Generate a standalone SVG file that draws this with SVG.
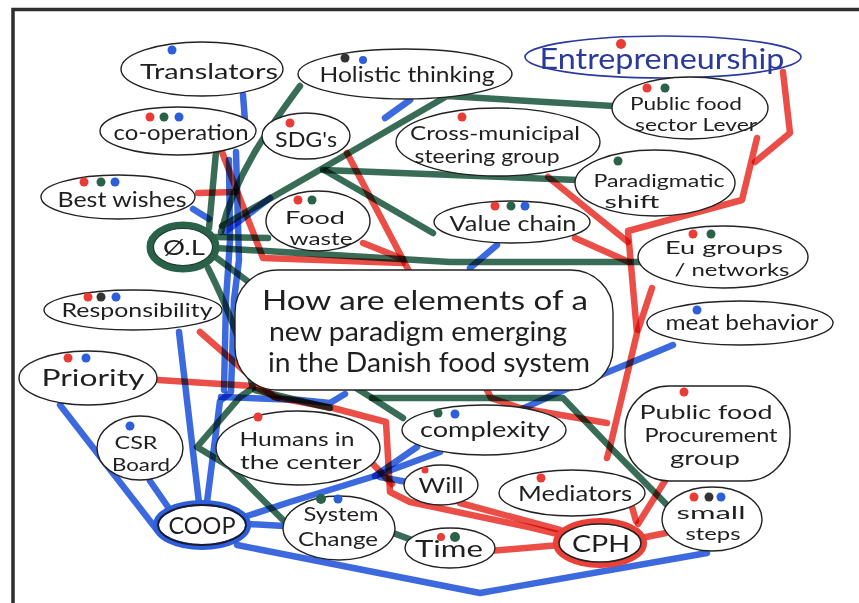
<svg xmlns="http://www.w3.org/2000/svg" width="859" height="603" viewBox="0 0 859 603">
  <defs>
    <style>
      .g { stroke: #2a6149; }
      .r { stroke: #ea4038; }
      .b { stroke: #2d5fdc; }
      .ln { fill: none; stroke-width: 6.5; stroke-linecap: round; stroke-linejoin: round; mix-blend-mode: multiply; opacity: 0.93; }
      .nd { fill: #ffffff; stroke: #222; stroke-width: 1.4; }
      .t { font-family: Lato, "Liberation Sans", sans-serif; font-size: 21px; fill: #1f1f1f; text-anchor: middle; }
      .two { font-size: 17px; }
      .big { font-size: 26px; }
      .dr { fill: #ea3b35; }
      .dg { fill: #2a6149; }
      .db { fill: #2d5fdc; }
      .dk { fill: #333333; }
    </style>
  </defs>
  <rect width="859" height="603" fill="#ffffff"/>
  <!-- frame -->
  <path d="M13,603 V9.5 H859" fill="none" stroke="#2e2e2e" stroke-width="3.5"/>

  <!-- connectors -->
  <g id="connectors">
    <!-- blue -->
    <path class="ln b" d="M243,95 L245,121"/>
    <path class="ln b" d="M236,152 L239,260 L234,300 L231,392 L220,401 L207,502"/>
    <path class="ln b" d="M229,160 L230,240 L226,300 L224,390"/>
    <path class="ln b" d="M221,397 L300,400 L330,403 L345,394"/>
    <path class="ln b" d="M225,232 L270,198"/>
    <path class="ln b" d="M385,118 L410,100"/>
    <path class="ln b" d="M193,209 L209,219"/>
    <path class="ln b" d="M179,332 L199,503"/>
    <path class="ln b" d="M60,405 L157,530"/>
    <path class="ln b" d="M150,481 L168,507"/>
    <path class="ln b" d="M248,524 L284,526"/>
    <path class="ln b" d="M247,516 L290,502 L375,476 L417,447"/>
    <path class="ln b" d="M375,476 L440,452"/>
    <path class="ln b" d="M380,477 L407,482"/>
    <path class="ln b" d="M237,545 L480,593 L707,553"/>
    <path class="ln b" d="M673,345 L630,363 L557,393 L520,410"/>
    <path class="ln b" d="M497,245 L470,268"/>

    <!-- green -->
    <path class="ln g" d="M300,86 C272,124 236,172 221,232"/>
    <path class="ln g" d="M216,152 L209,228"/>
    <path class="ln g" d="M222,226 L330,164 L447,96 L613,106"/>
    <path class="ln g" d="M323,170 L577,180"/>
    <path class="ln g" d="M326,171 L433,233"/>
    <path class="ln g" d="M215,237 L268,238"/>
    <path class="ln g" d="M215,248 L450,262 L641,262"/>
    <path class="ln g" d="M214,256 L250,283"/>
    <path class="ln g" d="M208,268 C224,300 242,340 253,388 L240,397 L197,447 L230,467 L283,520"/>
    <path class="ln g" d="M255,390 L330,408"/>
    <path class="ln g" d="M353,386 L372,398 L403,418"/>
    <path class="ln g" d="M372,398 L563,398 L610,447 L670,508"/>
    <path class="ln g" d="M393,533 L412,540"/>

    <!-- red -->
    <path class="ln r" d="M783,72 L790,133 L755,162"/>
    <path class="ln r" d="M757,138 L742,200 L628,231 L637,333 L610,447 L607,458"/>
    <path class="ln r" d="M652,288 L638,330"/>
    <path class="ln r" d="M548,177 L628,242"/>
    <path class="ln r" d="M575,238 L629,262"/>
    <path class="ln r" d="M347,153 L410,273"/>
    <path class="ln r" d="M222,152 L263,258 L403,263"/>
    <path class="ln r" d="M363,243 L403,259"/>
    <path class="ln r" d="M198,193 L236,192"/>
    <path class="ln r" d="M200,332 L274,397 L333,408 L386,422 L390,492 L410,502 L533,528 L562,535"/>
    <path class="ln r" d="M158,380 L253,386 L278,398"/>
    <path class="ln r" d="M370,461 L392,484"/>
    <path class="ln r" d="M460,503 L560,530"/>
    <path class="ln r" d="M490,551 L560,545"/>
    <path class="ln r" d="M632,507 L636,521"/>
    <path class="ln r" d="M668,476 L638,524"/>
    <path class="ln r" d="M666,533 L641,538"/>
    <path class="ln r" d="M483,382 L491,398 L520,408 L607,423"/>
  </g>

  <!-- central question -->
  <g id="question">
    <rect class="nd" x="235" y="270" width="378" height="120" rx="42"/>
    <text class="t big" x="425" y="310" textLength="326" lengthAdjust="spacingAndGlyphs">How are elements of a</text>
    <text class="t big" x="418" y="341" textLength="298" lengthAdjust="spacingAndGlyphs">new paradigm emerging</text>
    <text class="t big" x="429" y="372" textLength="322" lengthAdjust="spacingAndGlyphs">in the Danish food system</text>
  </g>

  <g id="translators">
    <ellipse class="nd" cx="202" cy="69" rx="81" ry="27"/>
    <circle class="db" cx="172" cy="50" r="4.5"/>
    <text class="t" x="209" y="79" textLength="138" lengthAdjust="spacingAndGlyphs">Translators</text>
  </g>
  <g id="holistic-thinking">
    <ellipse class="nd" cx="405" cy="74" rx="107" ry="25"/>
    <circle class="dk" cx="345" cy="58" r="4.5"/>
    <circle class="db" cx="363" cy="60" r="4"/>
    <text class="t" x="407" y="82" textLength="175" lengthAdjust="spacingAndGlyphs">Holistic thinking</text>
  </g>
  <g id="entrepreneurship">
    <ellipse cx="663" cy="57" rx="138" ry="21" fill="#fff" stroke="#2a3aa0" stroke-width="1.6"/>
    <circle class="dr" cx="621" cy="44" r="5"/>
    <text class="t" x="662" y="69" textLength="245" lengthAdjust="spacingAndGlyphs" style="font-size:28px;fill:#2a3a9c">Entrepreneurship</text>
  </g>
  <g id="co-operation">
    <ellipse class="nd" cx="178" cy="131" rx="78" ry="24"/>
    <circle class="dr" cx="150" cy="117" r="4.5"/>
    <circle class="dg" cx="164" cy="117" r="4.5"/>
    <circle class="db" cx="179" cy="117" r="4.5"/>
    <text class="t" x="181" y="140" textLength="135" lengthAdjust="spacingAndGlyphs">co-operation</text>
  </g>
  <g id="sdgs">
    <ellipse class="nd" cx="306" cy="136" rx="44" ry="23"/>
    <circle class="dr" cx="290" cy="123" r="4.5"/>
    <text class="t" x="306" y="147" textLength="62" lengthAdjust="spacingAndGlyphs">SDG's</text>
  </g>
  <g id="cross-municipal">
    <ellipse class="nd" cx="498" cy="142" rx="102" ry="34"/>
    <circle class="dr" cx="462" cy="117" r="4.5"/>
    <text class="t two" x="495" y="140" textLength="170" lengthAdjust="spacingAndGlyphs" style="font-size:19px">Cross-municipal</text>
    <text class="t two" x="487" y="163" textLength="145" lengthAdjust="spacingAndGlyphs" style="font-size:19px">steering group</text>
  </g>
  <g id="public-food-sector-lever">
    <ellipse class="nd" cx="690" cy="108" rx="78" ry="31"/>
    <circle class="dr" cx="647" cy="88" r="4.5"/>
    <circle class="dg" cx="665" cy="88" r="4.5"/>
    <text class="t two" x="686" y="110" textLength="112" lengthAdjust="spacingAndGlyphs">Public food</text>
    <text class="t two" x="696" y="131" textLength="122" lengthAdjust="spacingAndGlyphs">sector Lever</text>
  </g>
  <g id="best-wishes">
    <ellipse class="nd" cx="118" cy="197" rx="77" ry="22"/>
    <circle class="dr" cx="84" cy="182" r="4.5"/>
    <circle class="dg" cx="101" cy="182" r="4.5"/>
    <circle class="db" cx="115" cy="182" r="4.5"/>
    <text class="t" x="122" y="207" textLength="129" lengthAdjust="spacingAndGlyphs">Best wishes</text>
  </g>
  <g id="food-waste">
    <ellipse class="nd" cx="318" cy="221" rx="52" ry="30"/>
    <circle class="dr" cx="298" cy="200" r="4.5"/>
    <circle class="dg" cx="312" cy="200" r="4.5"/>
    <text class="t two" x="315" y="224" textLength="60" lengthAdjust="spacingAndGlyphs">Food</text>
    <text class="t two" x="321" y="245" textLength="63" lengthAdjust="spacingAndGlyphs">waste</text>
  </g>
  <g id="value-chain">
    <ellipse class="nd" cx="512" cy="222" rx="78" ry="21"/>
    <circle class="dr" cx="495" cy="206" r="4.5"/>
    <circle class="dg" cx="511" cy="206" r="4.5"/>
    <circle class="db" cx="525" cy="206" r="4.5"/>
    <text class="t" x="513" y="231" textLength="127" lengthAdjust="spacingAndGlyphs">Value chain</text>
  </g>
  <g id="paradigmatic-shift">
    <ellipse class="nd" cx="655" cy="183" rx="80" ry="33"/>
    <circle class="dg" cx="618" cy="161" r="4.5"/>
    <text class="t two" x="659" y="187" textLength="131" lengthAdjust="spacingAndGlyphs">Paradigmatic</text>
    <text class="t two" x="632" y="208" textLength="55" lengthAdjust="spacingAndGlyphs">shift</text>
  </g>
  <g id="ol">
    <ellipse cx="183" cy="247" rx="33" ry="22" fill="#fff" stroke="#2a6149" stroke-width="7"/>
    <ellipse cx="183" cy="247" rx="29.5" ry="18.5" fill="none" stroke="#1d3a2e" stroke-width="1.2"/>
    <text class="t" x="184" y="255" textLength="42" lengthAdjust="spacingAndGlyphs">Ø.L</text>
  </g>
  <g id="eu-groups">
    <ellipse class="nd" cx="723" cy="257" rx="85" ry="31"/>
    <circle class="dr" cx="693" cy="234" r="4.5"/>
    <circle class="dg" cx="711" cy="234" r="4.5"/>
    <text class="t two" x="724" y="254" textLength="118" lengthAdjust="spacingAndGlyphs" style="font-size:18px">Eu groups</text>
    <text class="t two" x="732" y="276" textLength="115" lengthAdjust="spacingAndGlyphs" style="font-size:18px">/ networks</text>
  </g>
  <g id="responsibility">
    <ellipse class="nd" cx="133" cy="310" rx="89" ry="20"/>
    <circle class="dr" cx="88" cy="297" r="4.5"/>
    <circle class="dk" cx="101" cy="297" r="4.5"/>
    <circle class="db" cx="116" cy="297" r="4.5"/>
    <text class="t" x="137" y="317" textLength="151" lengthAdjust="spacingAndGlyphs" style="font-size:19px">Responsibility</text>
  </g>
  <g id="meat-behavior">
    <ellipse class="nd" cx="740" cy="323" rx="93" ry="22"/>
    <circle class="db" cx="697" cy="310" r="4.5"/>
    <text class="t" x="742" y="330" textLength="153" lengthAdjust="spacingAndGlyphs">meat behavior</text>
  </g>
  <g id="priority">
    <ellipse class="nd" cx="88" cy="378" rx="69" ry="27"/>
    <circle class="dr" cx="68" cy="358" r="4.5"/>
    <circle class="db" cx="86" cy="358" r="4.5"/>
    <text class="t" x="93" y="386" textLength="103" lengthAdjust="spacingAndGlyphs" style="font-size:23px">Priority</text>
  </g>
  <g id="csr-board">
    <ellipse class="nd" cx="140" cy="448" rx="43" ry="32"/>
    <circle class="db" cx="130" cy="426" r="4.5"/>
    <text class="t two" x="136" y="449" textLength="43" lengthAdjust="spacingAndGlyphs" style="font-size:18px">CSR</text>
    <text class="t two" x="141" y="471" textLength="58" lengthAdjust="spacingAndGlyphs" style="font-size:18px">Board</text>
  </g>
  <g id="humans-in-the-center">
    <ellipse class="nd" cx="298" cy="448" rx="82" ry="37"/>
    <circle class="dr" cx="258" cy="417" r="4.5"/>
    <text class="t two" x="297" y="446" textLength="115" lengthAdjust="spacingAndGlyphs" style="font-size:19px">Humans in</text>
    <text class="t two" x="301" y="469" textLength="122" lengthAdjust="spacingAndGlyphs" style="font-size:19px">the center</text>
  </g>
  <g id="complexity">
    <ellipse class="nd" cx="484" cy="430" rx="82" ry="25"/>
    <circle class="dg" cx="438" cy="413" r="4.5"/>
    <circle class="db" cx="455" cy="414" r="4.5"/>
    <text class="t" x="485" y="437" textLength="130" lengthAdjust="spacingAndGlyphs">complexity</text>
  </g>
  <g id="procurement-group">
    <rect class="nd" x="625" y="386" width="165" height="95" rx="44"/>
    <circle class="dr" cx="684" cy="392" r="4.5"/>
    <text class="t two" x="706" y="419" textLength="133" lengthAdjust="spacingAndGlyphs" style="font-size:19px">Public food</text>
    <text class="t two" x="711" y="442" textLength="133" lengthAdjust="spacingAndGlyphs" style="font-size:19px">Procurement</text>
    <text class="t two" x="705" y="465" textLength="70" lengthAdjust="spacingAndGlyphs" style="font-size:19px">group</text>
  </g>
  <g id="will">
    <ellipse class="nd" cx="441" cy="485" rx="37" ry="20"/>
    <circle class="dr" cx="425" cy="470" r="3.5"/>
    <text class="t" x="441" y="493" textLength="45" lengthAdjust="spacingAndGlyphs">Will</text>
  </g>
  <g id="mediators">
    <ellipse class="nd" cx="572" cy="493" rx="73" ry="23"/>
    <circle class="dr" cx="541" cy="478" r="4.5"/>
    <text class="t" x="575" y="501" textLength="114" lengthAdjust="spacingAndGlyphs">Mediators</text>
  </g>
  <g id="small-steps">
    <ellipse class="nd" cx="712" cy="519" rx="50" ry="32"/>
    <circle class="dr" cx="694" cy="497" r="4.5"/>
    <circle class="dk" cx="709" cy="497" r="4.5"/>
    <circle class="db" cx="721" cy="497" r="4.5"/>
    <text class="t two" x="711" y="519" textLength="69" lengthAdjust="spacingAndGlyphs">small</text>
    <text class="t two" x="713" y="540" textLength="55" lengthAdjust="spacingAndGlyphs">steps</text>
  </g>
  <g id="coop">
    <ellipse cx="202" cy="525" rx="46" ry="22" fill="#fff" stroke="#2d5fdc" stroke-width="6"/>
    <ellipse cx="202" cy="525" rx="44" ry="20" fill="none" stroke="#1a1a2a" stroke-width="1.8"/>
    <text class="t" x="202" y="534" textLength="67" lengthAdjust="spacingAndGlyphs" style="font-size:23px">COOP</text>
  </g>
  <g id="system-change">
    <ellipse class="nd" cx="339" cy="528" rx="56" ry="32"/>
    <circle class="dg" cx="321" cy="499" r="5"/>
    <circle class="db" cx="338" cy="499" r="4.5"/>
    <text class="t two" x="341" y="521" textLength="75" lengthAdjust="spacingAndGlyphs" style="font-size:19px">System</text>
    <text class="t two" x="338" y="546" textLength="80" lengthAdjust="spacingAndGlyphs" style="font-size:19px">Change</text>
  </g>
  <g id="time">
    <ellipse class="nd" cx="450" cy="548" rx="45" ry="20"/>
    <circle class="dr" cx="441" cy="537" r="4"/>
    <circle class="dg" cx="455" cy="537" r="5"/>
    <text class="t" x="449" y="557" textLength="68" lengthAdjust="spacingAndGlyphs" style="font-size:23px">Time</text>
  </g>
  <g id="cph">
    <ellipse cx="600" cy="543" rx="44" ry="22" fill="#fff" stroke="#ea4038" stroke-width="6"/>
    <ellipse cx="600" cy="543" rx="41" ry="19" fill="none" stroke="#222" stroke-width="1.6"/>
    <text class="t" x="601" y="552" textLength="58" lengthAdjust="spacingAndGlyphs" style="font-size:24px">CPH</text>
  </g>
</svg>
